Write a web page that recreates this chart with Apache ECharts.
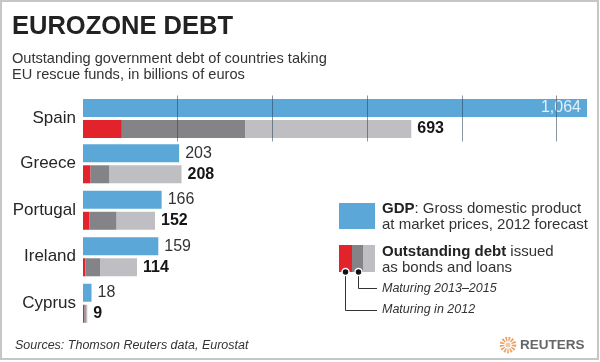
<!DOCTYPE html>
<html>
<head>
<meta charset="utf-8">
<style>html,body{margin:0;padding:0;background:#fff;}#c{width:600px;height:362px;}</style>
<script src="https://cdn.jsdelivr.net/npm/echarts@6/dist/echarts.min.js"></script>
</head>
<body>
<div id="c"></div>
<script>
const categories = ['Spain', 'Greece', 'Portugal', 'Ireland', 'Cyprus'];
const gdp = [1064, 203, 166, 159, 18];
const debtTotal = [693, 208, 152, 114, 9];
const maturing2012 = [82, 16, 13, 5, 3];
const maturing2013to2015 = [261, 40, 58, 32, 3];
const maturingLater = [350, 152, 81, 77, 3];
const xTicks = [0, 200, 400, 600, 800, 1000];

const FONT = 'Liberation Sans';
const BLUE = '#5aa7d8', RED = '#e2232b', DARK = '#838388', LIGHT = '#bfbfc3';

const chart = echarts.init(document.getElementById('c'), null, {renderer: 'canvas'});

function gridSeries(gi, idx) {
  const pick = arr => idx.map(i => arr[i]);
  const first = idx[0] === 0;
  return [
    {
      type: 'bar', xAxisIndex: gi, yAxisIndex: gi, name: 'GDP',
      data: pick(gdp), barWidth: 18, barGap: '17%',
      itemStyle: {color: BLUE},
      label: first ? {show: true, position: 'insideRight', distance: 6, color: '#e4eff8', fontSize: 16, fontFamily: FONT, formatter: p => p.value.toLocaleString('en-US')}
                   : {show: true, position: 'right', distance: 6, color: '#333', fontSize: 16, fontFamily: FONT}
    },
    {
      type: 'bar', xAxisIndex: gi, yAxisIndex: gi, stack: 'debt' + gi, name: 'Maturing in 2012',
      data: pick(maturing2012), barWidth: 18, itemStyle: {color: RED}
    },
    {
      type: 'bar', xAxisIndex: gi, yAxisIndex: gi, stack: 'debt' + gi, name: 'Maturing 2013-2015',
      data: pick(maturing2013to2015), barWidth: 18, itemStyle: {color: DARK}
    },
    {
      type: 'bar', xAxisIndex: gi, yAxisIndex: gi, stack: 'debt' + gi, name: 'Later',
      data: pick(maturingLater), barWidth: 18, itemStyle: {color: LIGHT},
      label: {show: true, position: 'right', distance: 6, color: '#151515', fontSize: 16, fontWeight: 'bold', fontFamily: FONT,
        formatter: p => String(debtTotal[idx[p.dataIndex]])}
    }
  ];
}

function xAxisDef(gi, showSplit) {
  return {
    type: 'value', gridIndex: gi, min: xTicks[0], max: gdp[0], interval: xTicks[1] - xTicks[0],
    show: true, z: 10,
    axisLine: {show: false}, axisTick: {show: false}, axisLabel: {show: false},
    splitLine: {show: showSplit, showMinLine: false, showMaxLine: false, lineStyle: {color: 'rgba(45,65,85,0.55)', width: 1}}
  };
}
function yAxisDef(gi, cats) {
  return {
    type: 'category', gridIndex: gi, data: cats, inverse: true,
    axisLine: {show: false}, axisTick: {show: false},
    axisLabel: {color: '#262626', fontSize: 17, fontFamily: FONT, margin: 7}
  };
}

const option = {
  animation: false,
  backgroundColor: '#fff',
  textStyle: {fontFamily: FONT},
  grid: [
    {left: 83, right: 13, top: 95.5, height: 46},
    {left: 83, right: 13, top: 140.5, height: 186}
  ],
  xAxis: [xAxisDef(0, true), xAxisDef(1, false)],
  yAxis: [yAxisDef(0, categories.slice(0, 1)), yAxisDef(1, categories.slice(1))],
  series: [...gridSeries(0, [0]), ...gridSeries(1, [1, 2, 3, 4])],
  graphic: [
    {type: 'rect', shape: {x: 1, y: 1, width: 597, height: 358}, style: {fill: 'none', stroke: '#c6c6c6', lineWidth: 2}, silent: true},
    {type: 'text', x: 12, y: 27, style: {text: 'EUROZONE DEBT', font: 'bold 25.5px "Liberation Sans"', fill: '#222', verticalAlign: 'middle'}},
    {type: 'text', x: 12, y: 59, style: {text: 'Outstanding government debt of countries taking', font: '14.6px "Liberation Sans"', fill: '#333', verticalAlign: 'middle'}},
    {type: 'text', x: 12, y: 75, style: {text: 'EU rescue funds, in billions of euros', font: '14.6px "Liberation Sans"', fill: '#333', verticalAlign: 'middle'}},
    // legend GDP
    {type: 'rect', shape: {x: 339, y: 203, width: 36, height: 26}, style: {fill: BLUE}},
    {type: 'text', x: 382, y: 209, style: {rich: {b: {font: 'bold 15px "Liberation Sans"', fill: '#222'}, n: {font: '15px "Liberation Sans"', fill: '#333'}}, text: '{b|GDP}{n|: Gross domestic product}', verticalAlign: 'middle'}},
    {type: 'text', x: 382, y: 225, style: {text: 'at market prices, 2012 forecast', font: '15px "Liberation Sans"', fill: '#333', verticalAlign: 'middle'}},
    // legend debt
    {type: 'rect', shape: {x: 339, y: 245, width: 13, height: 27}, style: {fill: RED}},
    {type: 'rect', shape: {x: 352, y: 245, width: 11, height: 27}, style: {fill: DARK}},
    {type: 'rect', shape: {x: 363, y: 245, width: 12, height: 27}, style: {fill: LIGHT}},
    {type: 'text', x: 382, y: 252, style: {rich: {b: {font: 'bold 15px "Liberation Sans"', fill: '#222'}, n: {font: '15px "Liberation Sans"', fill: '#333'}}, text: '{b|Outstanding debt}{n| issued}', verticalAlign: 'middle'}},
    {type: 'text', x: 382, y: 268, style: {text: 'as bonds and loans', font: '15px "Liberation Sans"', fill: '#333', verticalAlign: 'middle'}},
    {type: 'polyline', shape: {points: [[358.5, 272], [358.5, 288.5], [377, 288.5]]}, style: {stroke: '#333', lineWidth: 1, fill: 'none'}},
    {type: 'polyline', shape: {points: [[345.5, 272], [345.5, 310.5], [377, 310.5]]}, style: {stroke: '#333', lineWidth: 1, fill: 'none'}},
    {type: 'circle', shape: {cx: 358.5, cy: 272, r: 3.5}, style: {fill: '#111', stroke: '#fff', lineWidth: 1.5}},
    {type: 'circle', shape: {cx: 345.5, cy: 272, r: 3.5}, style: {fill: '#111', stroke: '#fff', lineWidth: 1.5}},
    {type: 'text', x: 382, y: 288.5, style: {text: 'Maturing 2013\u20132015', font: 'italic 12.5px "Liberation Sans"', fill: '#333', verticalAlign: 'middle'}},
    {type: 'text', x: 382, y: 309.5, style: {text: 'Maturing in 2012', font: 'italic 12.5px "Liberation Sans"', fill: '#333', verticalAlign: 'middle'}},
    // footer
    {type: 'text', x: 15, y: 346, style: {text: 'Sources: Thomson Reuters data, Eurostat', font: 'italic 12.5px "Liberation Sans"', fill: '#333', verticalAlign: 'middle'}},
    {type: 'circle', shape: {cx: 508, cy: 345, r: 6}, style: {fill: 'none', stroke: '#eba36a', lineWidth: 4.5, lineDash: [1.6, 1.2]}},
    {type: 'circle', shape: {cx: 508, cy: 345, r: 2.5}, style: {fill: '#f3c9a0'}},
    {type: 'text', x: 520, y: 345, style: {text: 'REUTERS', font: 'bold 13.5px "Liberation Sans"', fill: '#666', verticalAlign: 'middle'}}
  ]
};
chart.setOption(option);
</script>
</body>
</html>
